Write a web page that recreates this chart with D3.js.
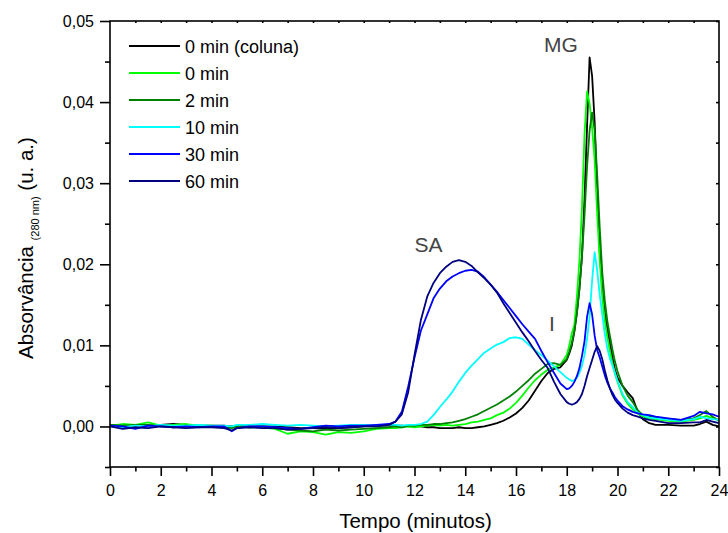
<!DOCTYPE html>
<html><head><meta charset="utf-8">
<script src="https://cdn.jsdelivr.net/npm/d3@7"></script>
<style>
html,body{margin:0;padding:0;background:#fff;}
svg text{font-family:"Liberation Sans",Arial,Helvetica,sans-serif;}
</style></head>
<body>
<svg id="chart" width="728" height="533"></svg>
<script>
// ---- Data ----
const tempo = [0,0.5,1,1.5,2,2.5,3,3.5,4,4.5,4.8,5,5.5,6,6.5,7,7.5,8,8.5,9,9.5,10,10.5,11,
  11.25,11.5,11.75,12,12.25,12.5,12.75,13,13.25,13.5,13.75,14,14.25,14.5,14.75,15,15.25,15.5,15.75,16,16.25,16.5,16.75,17,17.25,17.5,17.75,
  18,18.1,18.2,18.3,18.4,18.5,18.6,18.7,18.8,18.9,19.0,19.1,19.2,19.3,19.4,19.5,19.6,19.7,19.8,19.9,20.0,
  20.2,20.4,20.6,20.8,21.0,21.25,21.5,22,22.5,23,23.25,23.5,23.75,24];

const seriesNames = ["0 min (coluna)","0 min","2 min","10 min","30 min","60 min"];
const seriesColors = ["#000000","#00ff00","#008000","#00ffff","#0000ff","#000080"];

const abs_coluna = [0.0002,0.0001,0.0002,0.0001,0.0002,0.0003,0.0002,0.0001,0.0001,0.0001,0.0000,0.0001,0.0000,0.0000,0.0000,-0.0001,-0.0002,-0.0002,-0.0003,-0.0002,-0.0001,0.0000,0.0001,0.0001,
  0.0001,0.0001,0.0000,0.0000,0.0000,-0.0001,-0.0001,-0.0002,-0.0002,-0.0002,-0.0001,-0.0002,-0.0002,-0.0001,0.0000,0.0002,0.0004,0.0007,0.0011,0.0016,0.0023,0.0032,0.0044,0.0056,0.0066,0.0071,0.0073,
  0.0082,0.0090,0.0100,0.0117,0.0140,0.0170,0.0210,0.0280,0.0370,0.0455,0.0432,0.0375,0.0290,0.0215,0.0168,0.0140,0.0120,0.0103,0.0085,0.0070,0.0060,
  0.0050,0.0042,0.0035,0.0018,0.0009,0.0004,0.0002,0.0002,0.0001,0.0001,0.0003,0.0006,0.0002,0.0000];

const abs_0min = [0.0001,0.0003,0.0002,0.0005,0.0001,0.0002,0.0003,0.0001,0.0001,0.0000,-0.0001,0.0000,-0.0001,-0.0001,-0.0003,-0.0009,-0.0006,-0.0007,-0.0010,-0.0007,-0.0008,-0.0006,-0.0003,-0.0002,
  -0.0002,-0.0001,0.0000,-0.0001,0.0000,0.0001,0.0002,0.0001,0.0002,0.0001,0.0002,0.0003,0.0005,0.0006,0.0008,0.0010,0.0014,0.0017,0.0022,0.0029,0.0038,0.0048,0.0057,0.0064,0.0070,0.0073,0.0076,
  0.0088,0.0100,0.0115,0.0125,0.0160,0.0205,0.0270,0.0360,0.0413,0.0398,0.0368,0.0328,0.0262,0.0205,0.0160,0.0130,0.0110,0.0093,0.0078,0.0065,0.0055,
  0.0038,0.0028,0.0021,0.0016,0.0012,0.0010,0.0009,0.0007,0.0006,0.0008,0.0010,0.0013,0.0010,0.0008];

const abs_2min = [0.0002,0.0001,0.0002,0.0002,0.0000,-0.0001,0.0001,0.0000,0.0000,-0.0001,-0.0002,0.0000,-0.0001,0.0000,-0.0002,-0.0004,-0.0005,-0.0006,-0.0004,-0.0005,-0.0004,-0.0003,-0.0002,-0.0001,
  0.0000,-0.0001,0.0001,0.0001,0.0002,0.0002,0.0003,0.0003,0.0004,0.0005,0.0007,0.0009,0.0012,0.0015,0.0019,0.0023,0.0027,0.0032,0.0037,0.0043,0.0050,0.0057,0.0065,0.0071,0.0077,0.0078,0.0076,
  0.0083,0.0092,0.0103,0.0118,0.0140,0.0170,0.0210,0.0260,0.0320,0.0365,0.0387,0.0365,0.0310,0.0245,0.0190,0.0155,0.0130,0.0112,0.0095,0.0080,0.0068,
  0.0050,0.0038,0.0030,0.0020,0.0014,0.0012,0.0011,0.0009,0.0008,0.0010,0.0014,0.0019,0.0012,0.0007];

const abs_10min = [0.0000,-0.0001,0.0001,0.0000,0.0002,0.0001,0.0001,0.0002,0.0001,0.0001,0.0000,0.0002,0.0002,0.0003,0.0002,0.0001,0.0002,0.0001,0.0000,0.0001,0.0002,0.0002,0.0001,0.0002,
  0.0002,0.0001,0.0002,0.0002,0.0003,0.0006,0.0014,0.0024,0.0033,0.0043,0.0055,0.0066,0.0075,0.0083,0.0091,0.0096,0.0101,0.0104,0.0109,0.0110,0.0108,0.0101,0.0094,0.0088,0.0081,0.0074,0.0067,
  0.0060,0.0058,0.0056,0.0057,0.0060,0.0066,0.0075,0.0088,0.0108,0.0135,0.0180,0.0215,0.0192,0.0162,0.0138,0.0114,0.0096,0.0084,0.0075,0.0066,0.0056,
  0.0040,0.0030,0.0024,0.0017,0.0014,0.0011,0.0010,0.0008,0.0007,0.0009,0.0012,0.0010,0.0009,0.0008];

const abs_30min = [0.0001,0.0000,-0.0003,0.0001,0.0000,-0.0001,0.0000,-0.0001,0.0000,0.0000,-0.0006,-0.0002,0.0000,0.0000,-0.0001,-0.0002,-0.0003,-0.0001,0.0001,0.0000,0.0001,0.0001,0.0002,0.0003,
  0.0006,0.0018,0.0049,0.0085,0.0118,0.0138,0.0158,0.0170,0.0179,0.0185,0.0189,0.0192,0.0193,0.0191,0.0184,0.0175,0.0166,0.0156,0.0146,0.0136,0.0126,0.0117,0.0108,0.0093,0.0079,0.0066,0.0053,
  0.0046,0.0047,0.0050,0.0055,0.0062,0.0072,0.0087,0.0105,0.0135,0.0152,0.0138,0.0112,0.0094,0.0085,0.0074,0.0063,0.0054,0.0047,0.0042,0.0036,0.0032,
  0.0025,0.0021,0.0018,0.0016,0.0015,0.0014,0.0012,0.0010,0.0008,0.0013,0.0018,0.0016,0.0015,0.0012];

const abs_60min = [0.0000,-0.0003,-0.0001,-0.0002,0.0000,-0.0001,-0.0002,-0.0001,-0.0001,-0.0002,-0.0005,-0.0002,-0.0001,-0.0002,-0.0002,-0.0004,-0.0003,-0.0002,-0.0001,-0.0002,-0.0001,0.0000,0.0000,0.0002,
  0.0006,0.0015,0.0042,0.0088,0.0131,0.0160,0.0177,0.0189,0.0197,0.0203,0.0205,0.0203,0.0198,0.0190,0.0183,0.0175,0.0165,0.0152,0.0140,0.0128,0.0116,0.0105,0.0093,0.0082,0.0072,0.0055,0.0040,
  0.0030,0.0028,0.0027,0.0028,0.0030,0.0034,0.0040,0.0050,0.0062,0.0072,0.0082,0.0092,0.0099,0.0093,0.0083,0.0069,0.0057,0.0047,0.0039,0.0033,0.0029,
  0.0022,0.0017,0.0014,0.0012,0.0010,0.0008,0.0007,0.0004,0.0004,0.0005,0.0005,0.0008,0.0006,0.0004];

const seriesValues = [abs_coluna, abs_0min, abs_2min, abs_10min, abs_30min, abs_60min];

const xTicks = [0,2,4,6,8,10,12,14,16,18,20,22,24];
const xMinor = d3.range(1,24,2);
const yTicks = [0,0.01,0.02,0.03,0.04,0.05];
const yMinor = [-0.005,0.005,0.015,0.025,0.035,0.045];

const annotations = [{text:"MG",t:17.1,v:0.0462},{text:"SA",t:12.0,v:0.0215},{text:"I",t:17.3,v:0.0118}];

// ---- Drawing ----
const svg = d3.select("#chart");
const L=110, R=719, T=21, B=467;
const x = d3.scaleLinear().domain([0,24]).range([L,R]);
const y = d3.scaleLinear().domain([-0.005,0.05]).range([B,T]);
const fmtY = v => d3.format(".2f")(v).replace(".",",");

// series
const line = d3.line().x(d=>x(d[0])).y(d=>y(d[1]));
const gLines = svg.append("g");
seriesValues.forEach((vals,i)=>{
  gLines.append("path")
    .datum(tempo.map((t,j)=>[t,vals[j]]))
    .attr("fill","none").attr("stroke",seriesColors[i])
    .attr("stroke-width",1.8).attr("stroke-linejoin","round")
    .attr("d",line);
});

// axes
const axW = 1.6;
function styleAxis(g){
  g.selectAll(".domain").remove();
  g.selectAll(".tick line").attr("stroke","#000").attr("stroke-width",axW);
  g.selectAll(".tick text").attr("fill","#000").style("font-size","16px");
}
// bottom major/minor
svg.append("g").attr("transform",`translate(0,${B})`)
  .call(d3.axisBottom(x).tickValues(xTicks).tickSize(9).tickPadding(9).tickFormat(d3.format("d")))
  .call(styleAxis);
svg.append("g").attr("transform",`translate(0,${B})`)
  .call(d3.axisBottom(x).tickValues(xMinor).tickSize(4.5).tickFormat(""))
  .call(styleAxis);
// left
svg.append("g").attr("transform",`translate(${L},0)`)
  .call(d3.axisLeft(y).tickValues(yTicks).tickSize(10).tickPadding(6).tickFormat(fmtY))
  .call(styleAxis);
svg.append("g").attr("transform",`translate(${L},0)`)
  .call(d3.axisLeft(y).tickValues(yMinor).tickSize(5).tickFormat(""))
  .call(styleAxis);
// right (inward)
svg.append("g").attr("transform",`translate(${R},0)`)
  .call(d3.axisLeft(y).tickValues(yTicks.concat(yMinor)).tickSize(3).tickFormat(""))
  .call(styleAxis);
// top (inward)
svg.append("g").attr("transform",`translate(0,${T})`)
  .call(d3.axisBottom(x).tickValues(d3.range(1,24,1)).tickSize(2).tickFormat(""))
  .call(styleAxis);
// frame
svg.append("rect").attr("x",L).attr("y",T).attr("width",R-L).attr("height",B-T)
  .attr("fill","none").attr("stroke","#000").attr("stroke-width",axW);

// axis titles
svg.append("text").attr("x",(L+R)/2+1).attr("y",528).attr("text-anchor","middle")
  .style("font-size","20.5px").attr("fill","#000").text("Tempo (minutos)");
const yl = svg.append("text").attr("transform",`translate(33,${(T+B)/2+4}) rotate(-90)`)
  .attr("text-anchor","middle").style("font-size","20.5px").attr("fill","#000");
yl.append("tspan").text("Absorvância ");
yl.append("tspan").attr("dy",6).style("font-size","11px").text("(280 nm)");
yl.append("tspan").attr("dy",-6).text(" (u. a.)");

// annotations
annotations.forEach(a=>{
  svg.append("text").attr("x",x(a.t)).attr("y",y(a.v)).attr("fill","#444")
    .style("font-size","21px").text(a.text);
});

// legend
const lg = svg.append("g");
seriesNames.forEach((n,i)=>{
  const yy = 46 + i*27;
  lg.append("line").attr("x1",129).attr("x2",180).attr("y1",yy).attr("y2",yy)
    .attr("stroke",seriesColors[i]).attr("stroke-width",1.8);
  lg.append("text").attr("x",185).attr("y",yy+6.5).style("font-size","18px")
    .attr("fill","#000").text(n);
});
</script>
</body></html>
